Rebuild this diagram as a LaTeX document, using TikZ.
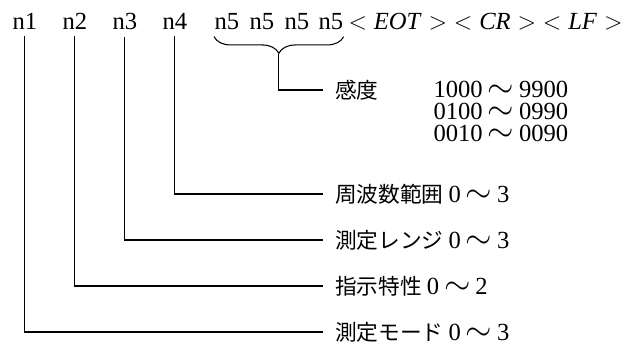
\documentclass[tikz,border=0pt]{standalone}
\usepackage{fontspec}
\setmainfont{Liberation Serif}
\newfontfamily\jp{Noto Sans CJK JP}
\usetikzlibrary{calc,decorations.pathreplacing}
\newcommand\tl{\hspace{0.2em}\scalebox{1.4}{$\sim$}\hspace{0.2em}}
\newcommand\ja[1]{{\jp\fontsize{18.5}{22}\selectfont #1}\hspace{0.2em}}

\begin{document}
\begin{tikzpicture}[x=0.03cm, y=-0.03cm, line width=0.9pt,
  every node/.style={font=\fontsize{21}{24}\selectfont},
  top/.style={anchor=base west, inner xsep=0pt, inner ysep=5pt},
  lbl/.style={anchor=west, inner xsep=10pt, inner ysep=0pt}]
  \useasboundingbox (0,0) rectangle (627,346);
  % top row
  \foreach \i/\x in {1/12,2/62,3/112,4/162} \node[top] (n\i) at (\x,30) {n\i};
  \foreach \j/\x in {a/214,b/249,c/284,d/318} \node[top] (n5\j) at (\x,30) {n5};
  \node[top] (eot) at (348,30) {$<$\;\textit{EOT}\;$>$\;$<$\;\textit{CR}\;$>$\;$<$\;\textit{LF}\;$>$};
  % labels
  \node[lbl] (kando) at (323,90) {\ja{感度}};
  \node[anchor=north west, inner sep=0pt, align=left,
    font=\fontsize{21}{18.7}\selectfont] (sens) at (433,81)
    {1000\tl 9900\\0100\tl 0990\\0010\tl 0090};
  \node[lbl] (freq) at (323,194) {\ja{周波数範囲}0\tl 3};
  \node[lbl] (range) at (323,240) {\ja{測定レンジ}0\tl 3};
  \node[lbl] (char) at (323,286) {\ja{指示特性}0\tl 2};
  \node[lbl] (mode) at (323,332) {\ja{測定モード}0\tl 3};
  % brace
  \coordinate (b1) at (n5a.south west);
  \coordinate (b2) at (n5d.south east);
  \draw[decorate, decoration={brace, mirror, amplitude=0.5cm}] (b1) -- (b2);
  \coordinate (tip) at ($(b1)!.5!(b2)+(0,17)$);
  \draw (tip) |- (kando.west);
  \foreach \i/\l in {1/mode,2/char,3/range,4/freq} \draw (n\i.south) |- (\l.west);
\end{tikzpicture}
\end{document}
